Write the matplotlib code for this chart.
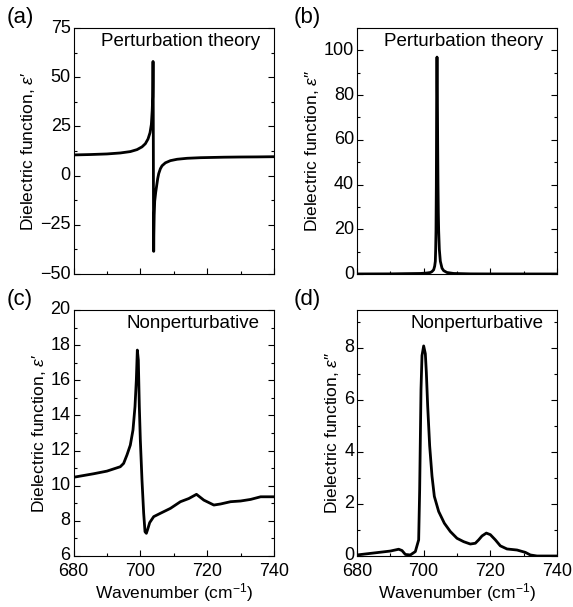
import matplotlib
matplotlib.use("Agg")
import matplotlib.pyplot as plt
from matplotlib.ticker import MultipleLocator
from matplotlib.transforms import ScaledTranslation

plt.rcParams['font.family'] = ['Liberation Sans', 'DejaVu Sans']
plt.rcParams['mathtext.fontset'] = 'custom'
plt.rcParams['mathtext.rm'] = 'Liberation Sans'
plt.rcParams['mathtext.it'] = 'Liberation Sans:italic'
plt.rcParams['axes.unicode_minus'] = True

# (a) perturbation theory, real part
wn_a = [680, 685, 690, 694, 697, 699, 700.5, 701.5, 702.3, 702.9, 703.3, 703.55,
        703.7, 703.75, 703.8, 703.85, 703.9, 703.95, 704.0, 704.05, 704.15, 704.3,
        704.6, 704.9, 705.2, 705.5, 706, 706.5, 707.5, 709, 711, 714, 718, 725,
        730, 735, 740]
eps1_a = [10.5, 10.7, 11.0, 11.5, 12.2, 13.2, 14.6, 16.2, 18.6, 21.8, 26.0, 33.0,
          40.0, 48.0, 58.0, 45.0, 10.0, -25.0, -38.5, -30.0, -20.0, -13.0,
          -8.5, -5.0, -1.5, 1.0, 3.5, 5.0, 6.5, 7.6, 8.3, 8.8, 9.1, 9.35,
          9.45, 9.5, 9.6]

# (b) perturbation theory, imaginary part
wn_b = [680, 690, 694, 699, 701, 702, 702.5, 703.0, 703.3, 703.5, 703.6, 703.7,
        703.8, 703.85, 703.9, 703.95, 704.0, 704.05, 704.1, 704.15, 704.2, 704.3,
        704.4, 704.5, 704.7, 705.0, 705.5, 706, 707, 709, 714, 720, 740]
eps2_b = [0.02, 0.06, 0.15, 0.24, 0.45, 0.67, 1.1, 1.9, 3.5, 5.7, 11.0, 19.4,
          39.8, 59.1, 83.6, 93.3, 97.0, 93.3, 83.6, 71.3, 59.1, 39.8,
          27.2, 19.4, 11.0, 5.7, 2.6, 1.5, 0.67, 0.24, 0.06, 0.03, 0.01]

# (c) nonperturbative, real part
wn_c = [680, 686, 690, 694, 695, 696, 697, 697.8, 698.4, 698.8, 699.1, 699.4,
        699.7, 700, 700.5, 701, 701.4, 701.8, 702.2, 702.8, 704, 706, 709, 712,
        714.5, 716.8, 719, 722, 724, 727, 730, 733, 736, 740]
eps1_c = [10.48, 10.68, 10.83, 11.08, 11.27, 11.75, 12.31, 13.17, 14.5, 16.0,
          17.72, 17.15, 14.5, 12.6, 10.3, 8.43, 7.38, 7.29, 7.52, 7.9, 8.24,
          8.43, 8.71, 9.09, 9.27, 9.51, 9.18, 8.90, 8.96, 9.09, 9.13, 9.22,
          9.37, 9.37]

# (d) nonperturbative, imaginary part
wn_d = [680, 686, 690, 692.5, 693.5, 694.5, 696, 697.5, 698.5, 698.8, 699.0,
        699.2, 699.5, 700, 700.5, 700.8, 701.2, 701.8, 702.5, 703.2, 704.5,
        706.2, 708, 710, 712, 714, 715.5, 716.5, 717.5, 718.8, 720, 721.5, 723,
        725, 728, 730.5, 732, 734, 740]
eps2_d = [0.04, 0.13, 0.19, 0.26, 0.21, 0.06, 0.04, 0.17, 0.62, 2.55, 4.48,
          6.4, 7.7, 8.07, 7.77, 7.06, 5.77, 4.23, 3.07, 2.29, 1.71,
          1.26, 0.94, 0.68, 0.55, 0.46, 0.49, 0.62, 0.77, 0.88, 0.82, 0.62, 0.39,
          0.27, 0.23, 0.14, 0.04, 0.0, 0.0]

fig = plt.figure(figsize=(5.73, 6.07), dpi=100)
W, H = 573.0, 607.0

def make_axes(x0, y0, x1, y1):
    return fig.add_axes([x0 / W, 1 - y1 / H, (x1 - x0) / W, (y1 - y0) / H])

ax_a = make_axes(73.5, 28, 274, 274)
ax_b = make_axes(357, 28, 557, 274)
ax_c = make_axes(73.5, 310, 274, 556)
ax_d = make_axes(357, 310, 557, 556)

panels = [
    (ax_a, wn_a, eps1_a, (-50, 75), 25, 12.5, "$\\varepsilon$\u2032", "Perturbation theory", "(a)", (7, 18)),
    (ax_b, wn_b, eps2_b, (0, 110), 20, 10, "$\\varepsilon$\u2033", "Perturbation theory", "(b)", (294, 17)),
    (ax_c, wn_c, eps1_c, (6, 20), 2, 1, "$\\varepsilon$\u2032", "Nonperturbative", "(c)", (7, 299)),
    (ax_d, wn_d, eps2_d, (0, 9.45), 2, 1, "$\\varepsilon$\u2033", "Nonperturbative", "(d)", (294, 299)),
]

# y tick labels sit a touch above their ticks in the original
lift = ScaledTranslation(0, 2 / 100.0, fig.dpi_scale_trans)

for ax, x, y, ylim, ymaj, ymin, sym, note, letter, lpos in panels:
    ax.plot(x, y, color='black', lw=2.0, solid_joinstyle='round')
    ax.set_xlim(680, 740)
    ax.set_ylim(*ylim)
    ax.xaxis.set_major_locator(MultipleLocator(20))
    ax.xaxis.set_minor_locator(MultipleLocator(10))
    ax.yaxis.set_major_locator(MultipleLocator(ymaj))
    ax.yaxis.set_minor_locator(MultipleLocator(ymin))
    ax.tick_params(which='both', direction='in', right=True, top=False,
                   labelsize=13)
    ax.tick_params(axis='y', pad=2)
    ax.tick_params(axis='x', pad=5)
    ax.tick_params(which='major', length=4, width=0.8)
    ax.tick_params(which='minor', length=2.5, width=0.8)
    for sp in ax.spines.values():
        sp.set_linewidth(0.8)
    ax.set_ylabel("Dielectric function, " + sym, fontsize=12.5, labelpad=2)
    ax.text(0.93, 0.945, note, transform=ax.transAxes, ha='right', va='center',
            fontsize=13.5)
    fig.text(lpos[0] / W, 1 - lpos[1] / H, letter, fontsize=16,
             ha='left', va='center')
    fig.canvas.draw()
    for lab in ax.get_yticklabels():
        lab.set_transform(lab.get_transform() + lift)

for ax in (ax_a, ax_b):
    ax.tick_params(labelbottom=False)
for ax in (ax_c, ax_d):
    ax.set_xlabel("Wavenumber (cm$^{-1}$)", fontsize=12.5, labelpad=1)

fig.savefig("out.png", dpi=100)
